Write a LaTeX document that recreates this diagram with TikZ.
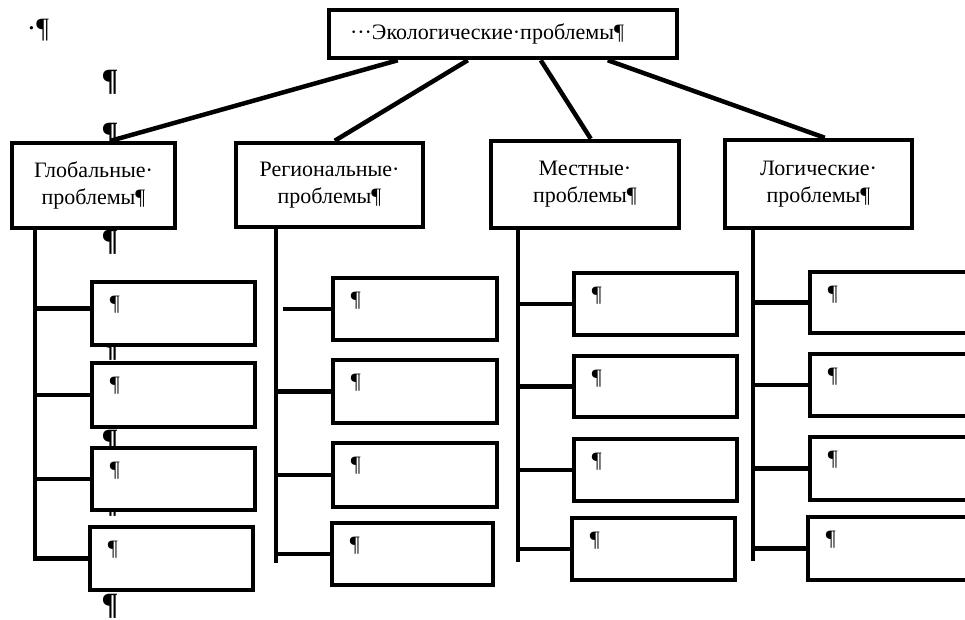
\documentclass[tikz,border=0pt]{standalone}
\usepackage{fontspec}
\setmainfont{Liberation Serif}
\begin{document}
\begin{tikzpicture}[x=1pt,y=-1pt,
  box/.style={draw, line width=4.5pt, fill=white, inner sep=0pt},
  conn/.style={line width=4.5pt},
  txt/.style={font=\fontsize{22}{27}\selectfont, align=center},
  pil/.style={font=\fontsize{22}{22}\selectfont, inner sep=0pt},
  bigpil/.style={font=\bfseries\fontsize{31}{31}\selectfont, inner sep=0pt},
  chbox/.style={box, minimum width=163pt}]
\useasboundingbox (0,0) rectangle (965,619);
% margin paragraph marks
\node[font=\fontsize{28}{28}\selectfont, inner sep=0pt] (p0) at (38,30) {·¶};
\node[bigpil] (p1) at (110,82) {¶};
\node[bigpil] (p2) at (110,135) {¶};
\node[bigpil] (p3) at (110,242) {¶};
\node[bigpil] (p4) at (110,348) {¶};
\node[bigpil] (p5) at (110,442) {¶};
\node[bigpil] (p6) at (110,504) {¶};
\node[bigpil] (p7) at (110,606) {¶};
% title
\node[box, txt, text width=306pt, inner xsep=21pt, minimum height=48pt, align=left] (T) at (503,34) {···Экологические·проблемы¶};
% level 2
\node[box, txt, minimum width=163pt, minimum height=85pt] (G) at (93.5,185.5) {Глобальные·\\проблемы¶};
\node[box, txt, minimum width=187pt, minimum height=84pt] (R) at (329.5,185) {Региональные·\\проблемы¶};
\node[box, txt, minimum width=188pt, minimum height=87pt] (M) at (585,184.5) {Местные·\\проблемы¶};
\node[box, txt, minimum width=187pt, minimum height=88pt] (L) at (818.5,184) {Логические·\\проблемы¶};
% children
\node[chbox, minimum height=63pt] (g1) at (173.5,313.5) {};
\node[chbox, minimum height=64pt] (g2) at (173.5,395) {};
\node[chbox, minimum height=62pt] (g3) at (173.5,479) {};
\node[chbox, minimum height=63pt] (g4) at (171.5,558.5) {};
\node[chbox, minimum width=164pt, minimum height=62pt] (r1) at (415,309) {};
\node[chbox, minimum width=164pt, minimum height=63pt] (r2) at (415,391.5) {};
\node[chbox, minimum width=164pt, minimum height=64pt] (r3) at (415,475) {};
\node[chbox, minimum width=161pt, minimum height=62pt] (r4) at (412.5,554) {};
\node[chbox, minimum height=62pt] (m1) at (655.5,304) {};
\node[chbox, minimum height=61pt] (m2) at (655.5,386.5) {};
\node[chbox, minimum height=62pt] (m3) at (655.5,470) {};
\node[chbox, minimum height=62pt] (m4) at (653.5,549) {};
\node[chbox, minimum height=61pt] (l1) at (891.5,302.5) {};
\node[chbox, minimum height=62pt] (l2) at (891.5,385) {};
\node[chbox, minimum height=63pt] (l3) at (891.5,468.5) {};
\node[chbox, minimum height=63pt] (l4) at (889.5,548.5) {};
\foreach \b in {g1,g2,g3,g4,r1,r2,r3,r4,m1,m2,m3,m4,l1,l2,l3,l4}
  \node[pil] (\b p) at ([shift={(25pt,-25pt)}]\b.north west) {¶};
% connectors from title
\draw[conn] ([xshift=71pt]T.south west) -- ([xshift=101pt]G.north west);
\draw[conn] ([xshift=141pt]T.south west) -- ([xshift=101pt]R.north west);
\draw[conn] ([xshift=214pt]T.south west) -- ([xshift=102pt]M.north west);
\draw[conn] ([xshift=281pt]T.south west) -- ([xshift=102pt]L.north west);
% trunks
\coordinate (a1) at (35,561);
\coordinate (a2) at (276,563);
\coordinate (a3) at (518,562);
\coordinate (a4) at (753,561);
\draw[conn] (a1 |- G.south) -- (a1);
\draw[conn] (a2 |- R.south) -- (a2);
\draw[conn] (a3 |- M.south) -- (a3);
\draw[conn] (a4 |- L.south) -- (a4);
% branches
\coordinate (g1b) at ([yshift=5pt]g1.west);
\draw[conn] (a1 |- g1b) -- (g1b);
\foreach \b in {g2,g3,g4} \draw[conn] (a1 |- \b.west) -- (\b.west);
\draw[conn] (a2 |- r1.west) ++(7,0) -- (r1.west);
\foreach \b in {r2,r3,r4} \draw[conn] (a2 |- \b.west) -- (\b.west);
\foreach \b in {m1,m2,m3,m4} \draw[conn] (a3 |- \b.west) -- (\b.west);
\foreach \b in {l1,l2,l3,l4} \draw[conn] (a4 |- \b.west) -- (\b.west);
\end{tikzpicture}
\end{document}
